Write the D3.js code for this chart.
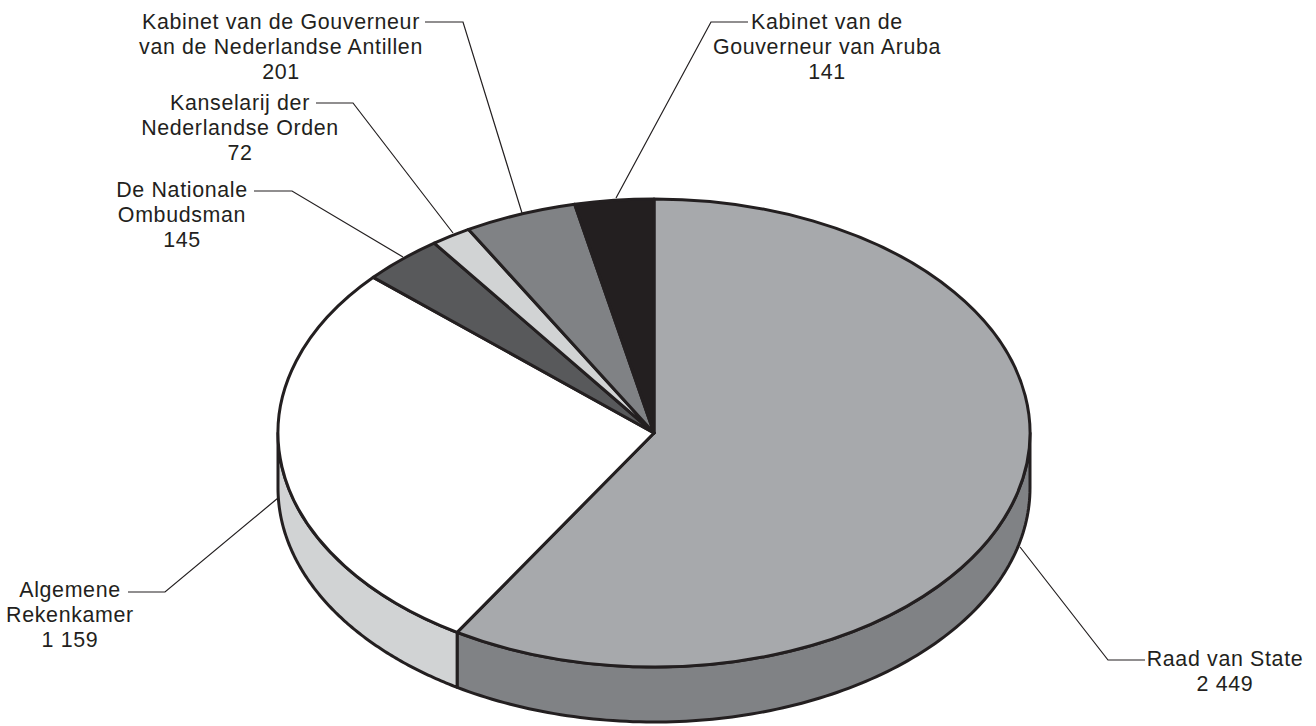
<!DOCTYPE html>
<html lang="nl">
<head>
<meta charset="utf-8">
<script src="https://d3js.org/d3.v7.min.js"></script>
<style>
  html, body { margin: 0; padding: 0; background: #fff; }
  svg { display: block; }
  text { font-family: "Liberation Sans", Arial, sans-serif; font-size: 21.4px; letter-spacing: 0.65px; fill: #231f20; text-anchor: middle; }
</style>
</head>
<body>
<div id="chart"></div>
<script>
// waarden, met de klok mee vanaf boven
const names = ["Raad van State", "Algemene Rekenkamer", "De Nationale Ombudsman",
  "Kanselarij der Nederlandse Orden", "Kabinet van de Gouverneur van de Nederlandse Antillen",
  "Kabinet van de Gouverneur van Aruba"];
const values = [2449, 1159, 145, 72, 201, 141];
const valueLabels = ["2 449", "1 159", "145", "72", "201", "141"];
const labelLines = [
  ["Raad van State"],
  ["Algemene", "Rekenkamer"],
  ["De Nationale", "Ombudsman"],
  ["Kanselarij der", "Nederlandse Orden"],
  ["Kabinet van de Gouverneur", "van de Nederlandse Antillen"],
  ["Kabinet van de", "Gouverneur van Aruba"]
];
const topColors = ["#a7a9ac", "#ffffff", "#58595b", "#d1d3d4", "#808285", "#231f20"];
const wallColors = ["#808285", "#d1d3d4", "#58595b", "#d1d3d4", "#808285", "#231f20"];

const width = 1316, height = 726;
const cx = 654, cy = 433, rx = 376, ry = 234, depth = 55;
const ink = "#231f20";

// plek van de labels en de hulplijnen
const labelPos = [
  { x: 1225, y: 666, line: [[1145, 660], [1108, 660], [1020, 547]] },
  { x: 70, y: 597, line: [[128, 592], [165, 592], [278, 498]] },
  { x: 182, y: 197, line: [[254, 191], [292, 191], [403, 257]] },
  { x: 240, y: 110, line: [[316, 103], [353, 103], [453, 233]] },
  { x: 281, y: 29, line: [[425, 22], [463, 22], [522, 213]] },
  { x: 827, y: 29, line: [[748, 22], [711, 22], [616, 198]] }
];

const svg = d3.select("#chart").append("svg")
  .attr("width", width)
  .attr("height", height);

const slices = d3.pie().sort(null).value(d => d)
  .startAngle(0).endAngle(2 * Math.PI)(values);

// zijwand: alleen het deel dat aan de voorkant zichtbaar is
const wall = d3.area()
  .x(a => cx + rx * Math.sin(a))
  .y0(a => cy - ry * Math.cos(a))
  .y1(a => cy - ry * Math.cos(a) + depth);

slices.forEach((s, i) => {
  const a0 = Math.max(s.startAngle, Math.PI / 2);
  const a1 = Math.min(s.endAngle, 3 * Math.PI / 2);
  if (a1 <= a0) return;
  const n = 120;
  const angles = d3.range(n + 1).map(k => a0 + (a1 - a0) * k / n);
  svg.append("path")
    .attr("d", wall(angles))
    .attr("fill", wallColors[i])
    .attr("stroke", ink)
    .attr("stroke-width", 3)
    .attr("stroke-linejoin", "round");
});

// bovenkant: gewone d3.arc, verticaal samengedrukt
const arc = d3.arc().innerRadius(0).outerRadius(rx);
svg.append("g")
  .attr("transform", `translate(${cx},${cy}) scale(1,${ry / rx})`)
  .selectAll("path")
  .data(slices)
  .join("path")
  .attr("d", arc)
  .attr("fill", (d, i) => topColors[i])
  .attr("stroke", ink)
  .attr("stroke-width", 3)
  .attr("stroke-linejoin", "round")
  .attr("vector-effect", "non-scaling-stroke");

// hulplijnen
const leader = d3.line();
svg.append("g")
  .selectAll("path")
  .data(labelPos)
  .join("path")
  .attr("d", d => leader(d.line))
  .attr("fill", "none")
  .attr("stroke", ink)
  .attr("stroke-width", 1.2);

// labels
const lineHeight = 25;
labelPos.forEach((p, i) => {
  const rows = labelLines[i].concat(valueLabels[i]);
  const t = svg.append("text").attr("aria-label", names[i]);
  rows.forEach((r, k) => {
    t.append("tspan")
      .attr("x", p.x)
      .attr("y", p.y + k * lineHeight)
      .text(r);
  });
});
</script>
</body>
</html>
